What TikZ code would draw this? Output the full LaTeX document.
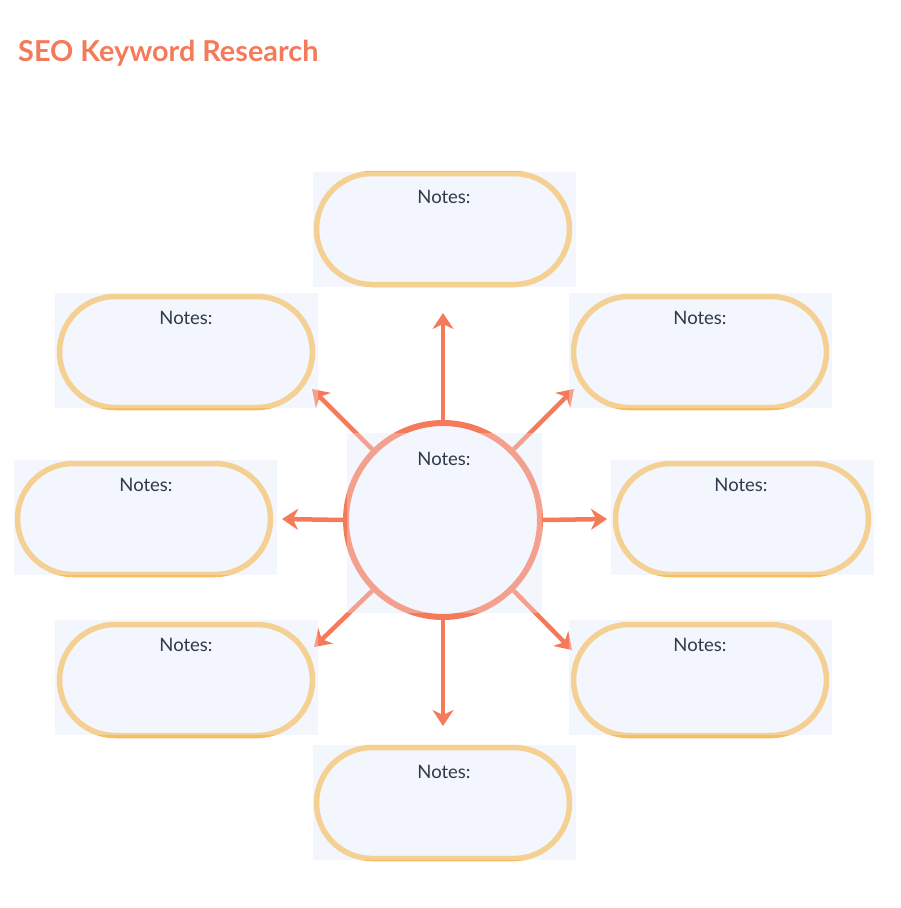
\documentclass[tikz,border=0pt]{standalone}
\usepackage{fontspec}
\setmainfont{Lato}
\usetikzlibrary{arrows.meta}
\definecolor{bgblue}{HTML}{F3F6FD}
\definecolor{pillc}{HTML}{F6BE62}
\definecolor{arrowc}{HTML}{F47A5A}
\definecolor{textc}{HTML}{2E3A4A}
\tikzset{
  bgrect/.style={fill=bgblue, draw=none, minimum width=263pt, minimum height=115pt, inner sep=0pt},
  overrect/.style={fill=bgblue, fill opacity=0.32, draw=none, minimum width=263pt, minimum height=115pt, inner sep=0pt},
  pill/.style={draw=pillc, fill=bgblue, line width=5.5pt, minimum width=253pt, minimum height=111pt, rounded corners=55.5pt, inner sep=0pt},
  notes/.style={text=textc, font=\fontsize{18.5}{22}\selectfont, anchor=base, inner sep=0pt},
  ray/.style={draw=arrowc, line width=4.5pt, -{Stealth[length=16pt,width=21pt,inset=5pt]}},
}
\begin{document}
\begin{tikzpicture}[x=1pt,y=-1pt]
\useasboundingbox (0,0) rectangle (900,908);
% title
\node[anchor=base west, inner sep=0pt, text=arrowc, font=\fontsize{28.8}{34}\selectfont\bfseries] (title) at (18,61) {SEO Keyword Research};
% background rectangles
\foreach \n/\x/\y in {a/444.5/229, b/186.5/350, c/700.5/350, d/145.5/517.5, e/742.5/517.5, f/186.5/677.5, g/700.5/677.5, h/444.5/802.5}{
  \node[bgrect] (bg\n) at (\x,\y) {};
}
\node[fill=bgblue, minimum width=195pt, minimum height=180pt, inner sep=0pt] (bgc) at (444.5,523) {};
% pills
\node[pill] (pa) at (443,229) {};
\node[pill] (pb) at (186,352) {};
\node[pill] (pc) at (700,352) {};
\node[pill] (pd) at (144,519) {};
\node[pill] (pe) at (742,519) {};
\node[pill] (pf) at (186,680) {};
\node[pill] (pg) at (700,680) {};
\node[pill] (ph) at (443,803) {};
% centre circle
\node[circle, draw=arrowc, fill=bgblue, line width=6pt, minimum size=194pt, inner sep=0pt] (cc) at (443,520) {};
% arrow tips
\coordinate (tn) at (443,313);
\coordinate (ts) at (443,726);
\coordinate (tw) at (282,519);
\coordinate (te) at (607,519);
\coordinate (tnw) at (312,389);
\coordinate (tne) at (574,389);
\coordinate (tsw) at (314,647);
\coordinate (tse) at (572,650);
\draw[ray] (cc.north) -- (tn);
\draw[ray] (cc.south) -- (ts);
\draw[ray] (cc.west) -- (tw);
\draw[ray] (cc.east) -- (te);
\draw[ray] (cc.135) -- (tnw);
\draw[ray] (cc.45) -- (tne);
\draw[ray] (cc.-135) -- (tsw);
\draw[ray] (cc.-45) -- (tse);
% light overlays
\foreach \n/\x/\y in {a/444.5/229, b/186.5/350, c/700.5/350, d/145.5/517.5, e/742.5/517.5, f/186.5/677.5, g/700.5/677.5, h/444.5/802.5}{
  \node[overrect] (ov\n) at (\x,\y) {};
}
\node[fill=bgblue, fill opacity=0.32, minimum width=195pt, minimum height=180pt, inner sep=0pt] (ovc) at (444.5,523) {};
% texts
\node[notes] (na) at (444,203) {Notes:};
\node[notes] (nb) at (186,324) {Notes:};
\node[notes] (nc) at (700,324) {Notes:};
\node[notes] (nd) at (146,491) {Notes:};
\node[notes] (ne) at (741,491) {Notes:};
\node[notes] (nf) at (186,651) {Notes:};
\node[notes] (ng) at (700,651) {Notes:};
\node[notes] (nh) at (444,778) {Notes:};
\node[notes] (ncc) at (444,465) {Notes:};
\end{tikzpicture}
\end{document}
